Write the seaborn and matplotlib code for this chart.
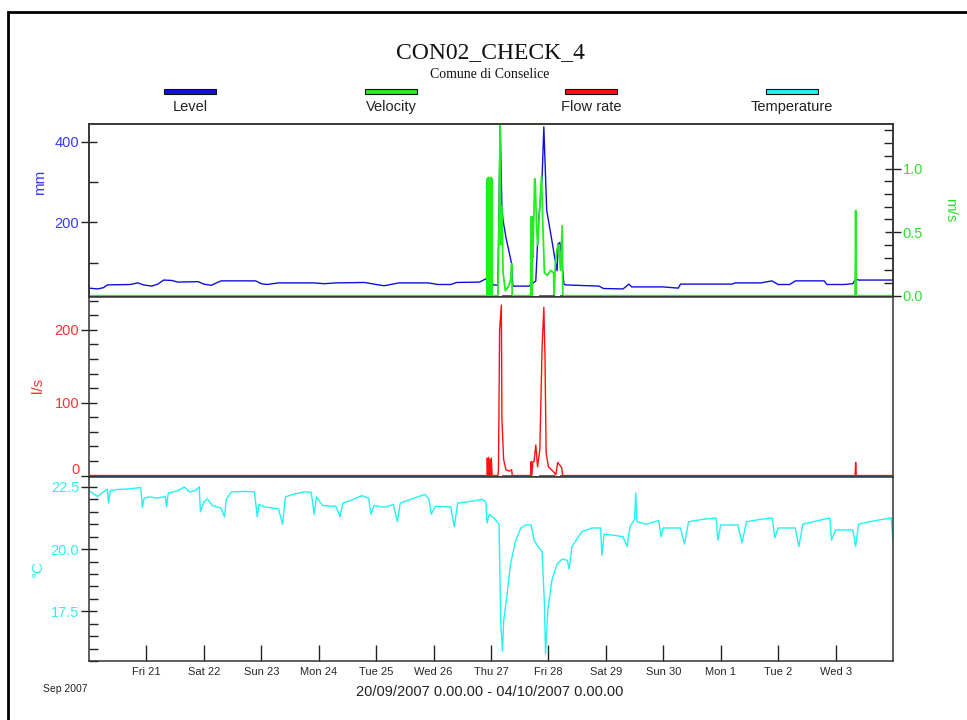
import numpy as np
import pandas as pd
import seaborn as sns
import matplotlib.pyplot as plt
from matplotlib.patches import Rectangle
from matplotlib.ticker import MultipleLocator, FixedLocator
from matplotlib.transforms import ScaledTranslation

sns.set_theme(style="white")
plt.rcParams['font.family'] = ['Liberation Sans', 'DejaVu Sans']

# time axis: days since 20/09/2007 00:00
day_ticks = list(range(1, 14))
day_labels = ["Fri 21", "Sat 22", "Sun 23", "Mon 24", "Tue 25", "Wed 26", "Thu 27",
              "Fri 28", "Sat 29", "Sun 30", "Mon 1", "Tue 2", "Wed 3"]

series_names = ["Level", "Velocity", "Flow rate", "Temperature"]
series_colors = ["#1010d8", "#22ee22", "#ff1010", "#22f2f2"]
label_colors = ["#3838ff", "#33dd33", "#ff3333", "#33eeee"]

# Level (mm)
level_t = [0.00, 0.15, 0.25, 0.32, 0.72, 0.85, 0.95, 1.09, 1.20, 1.30, 1.44, 1.55, 1.90,
           2.00, 2.13, 2.25, 2.30, 2.90, 3.00, 3.10, 3.30, 3.90, 4.10, 4.30, 4.80, 5.00,
           5.14, 5.40, 5.90, 6.08, 6.30, 6.40, 6.80, 6.91, 6.98, 7.05, 7.12, 7.16, 7.19,
           7.21, 7.26, 7.31, 7.36, 7.38, 7.66, 7.70, 7.78, 7.83, 7.89, 7.92, 7.95, 7.97,
           8.04, 8.07, 8.11, 8.15, 8.17, 8.20, 8.23, 8.25, 8.27, 8.30, 8.88, 8.96, 9.30,
           9.40, 9.45, 10.00, 10.26, 10.30, 11.20, 11.25, 11.70, 11.89, 12.00, 12.20,
           12.30, 12.80, 12.85, 13.15, 13.30, 13.35, 13.40, 14.00]
level_mm = [37, 35, 38, 45, 46, 50, 45, 42, 47, 57, 56, 52, 53,
            47, 44, 52, 55, 55, 48, 46, 50, 50, 48, 50, 51, 46,
            43, 50, 50, 46, 46, 51, 52, 60, 52, 45, 44, 442, 237,
            205, 163, 130, 97, 42, 42, 46, 55, 205, 312, 437, 312, 230,
            172, 147, 112, 80, 147, 150, 112, 80, 47, 45, 42, 36, 35,
            47, 40, 40, 37, 47, 47, 50, 50, 55, 46, 46,
            55, 55, 46, 46, 48, 60, 57, 57]

# Velocity (m/s)
vel_t = [0.00, 6.93, 6.935, 6.945, 6.955, 6.965, 6.975, 6.985, 6.995, 7.005, 7.015, 7.02,
         7.12, 7.13, 7.16, 7.17, 7.19, 7.21, 7.25, 7.30, 7.34, 7.36, 7.37, 7.69, 7.70,
         7.71, 7.72, 7.73, 7.76, 7.77, 7.79, 7.81, 7.83, 7.88, 7.90, 7.93, 7.98, 8.04,
         8.09, 8.10, 8.12, 8.15, 8.18, 8.21, 8.24, 8.25, 13.34, 13.35, 13.36, 14.00]
vel_ms = [0.0, 0.0, 0.92, 0.0, 0.93, 0.0, 0.92, 0.0, 0.93, 0.0, 0.92, 0.0,
          0.0, 0.24, 1.38, 0.40, 0.70, 0.18, 0.04, 0.07, 0.12, 0.25, 0.0, 0.0, 0.62,
          0.0, 0.62, 0.30, 0.92, 0.90, 0.59, 0.40, 0.55, 0.94, 0.60, 0.18, 0.16, 0.20,
          0.18, 0.0, 0.25, 0.37, 0.40, 0.20, 0.55, 0.0, 0.0, 0.67, 0.0, 0.0]

# Flow rate (l/s)
flow_t = [0.00, 6.93, 6.935, 6.945, 6.96, 6.97, 6.985, 6.995, 7.005, 7.02, 7.12, 7.13,
          7.15, 7.18, 7.19, 7.22, 7.26, 7.32, 7.36, 7.37, 7.69, 7.70, 7.71, 7.73, 7.75,
          7.78, 7.81, 7.85, 7.89, 7.92, 7.94, 7.96, 8.00, 8.08, 8.13, 8.16, 8.19, 8.23,
          8.25, 13.34, 13.35, 13.36, 14.00]
flow_ls = [0, 0, 24, 0, 25, 0, 22, 0, 24, 0, 0, 8,
           200, 234, 77, 22, 8, 6, 8, 0, 0, 19, 0, 19, 19,
           42, 12, 35, 177, 231, 163, 31, 12, 6, 1, 18, 15, 11,
           0, 0, 18, 0, 0]

# no-data stretches during the events
gap_start = [7.19, 7.83, 8.20]
gap_end = [7.36, 8.11, 8.25]

# Temperature (degC)
temp_t = [0.00, 0.10, 0.15, 0.25, 0.32, 0.34, 0.37, 0.50, 0.70, 0.90, 0.93, 0.96, 1.05,
          1.20, 1.33, 1.35, 1.38, 1.55, 1.66, 1.75, 1.85, 1.92, 1.94, 2.00, 2.06, 2.15,
          2.30, 2.36, 2.39, 2.48, 2.70, 2.88, 2.93, 2.96, 3.05, 3.30, 3.37, 3.42, 3.55,
          3.75, 3.87, 3.92, 3.96, 4.07, 4.30, 4.37, 4.42, 4.55, 4.75, 4.87, 4.91, 4.96,
          5.15, 5.30, 5.37, 5.42, 5.60, 5.85, 5.92, 5.96, 6.03, 6.30, 6.36, 6.42, 6.60,
          6.85, 6.91, 6.93, 6.97, 7.05, 7.14, 7.17, 7.20, 7.22, 7.28, 7.34, 7.43, 7.52,
          7.60, 7.70, 7.75, 7.82, 7.89, 7.93, 7.95, 7.99, 8.06, 8.15, 8.24, 8.33, 8.36,
          8.41, 8.58, 8.76, 8.91, 8.93, 8.97, 9.15, 9.30, 9.37, 9.42, 9.50, 9.52, 9.54,
          9.70, 9.92, 9.96, 10.00, 10.30, 10.37, 10.44, 10.70, 10.92, 10.95, 11.00,
          11.30, 11.37, 11.45, 11.70, 11.90, 11.94, 12.00, 12.30, 12.36, 12.43, 12.70,
          12.90, 12.93, 13.00, 13.30, 13.35, 13.40, 13.70, 13.97, 14.00]
temp_c = [22.35, 22.20, 22.12, 22.30, 22.42, 21.85, 22.35, 22.40, 22.42, 22.48, 21.68, 22.05, 22.10,
          22.05, 22.12, 21.70, 22.25, 22.35, 22.50, 22.30, 22.35, 22.50, 21.50, 21.90, 22.02, 21.75,
          21.65, 21.30, 22.00, 22.30, 22.32, 22.30, 21.30, 21.80, 21.70, 21.62, 21.00, 22.10, 22.20,
          22.30, 22.28, 21.40, 22.10, 21.75, 21.72, 21.30, 21.85, 21.95, 22.15, 22.05, 21.40, 21.75,
          21.68, 21.80, 21.10, 21.85, 22.00, 22.20, 22.00, 21.40, 21.72, 21.70, 20.90, 21.85, 21.90,
          22.00, 21.90, 21.05, 21.40, 21.25, 21.00, 17.00, 15.90, 17.10, 18.20, 19.40, 20.35, 20.85,
          20.97, 20.97, 20.36, 20.10, 19.90, 17.80, 15.80, 17.55, 18.75, 19.40, 19.60, 19.55, 19.20,
          20.10, 20.70, 20.85, 20.85, 19.75, 20.60, 20.55, 20.50, 20.10, 20.90, 21.20, 22.25, 21.10,
          21.00, 21.15, 20.50, 20.85, 20.85, 20.20, 21.10, 21.20, 21.25, 20.36, 20.97,
          20.97, 20.25, 21.10, 21.20, 21.25, 20.45, 20.85, 20.85, 20.10, 21.00, 21.15,
          21.25, 20.36, 20.77, 20.77, 20.10, 21.00, 21.15, 21.25, 20.30]

W, H = 967, 720
fig = plt.figure(figsize=(W / 100, H / 100), dpi=100)
fig.patch.set_facecolor("white")

left, width = 89 / W, (893 - 89) / W
ax_lvl = fig.add_axes([left, 1 - 297 / H, width, (297 - 124) / H])
ax_vel = ax_lvl.twinx()
ax_flow = fig.add_axes([left, 1 - 477 / H, width, (477 - 297) / H])
ax_temp = fig.add_axes([left, 1 - 661 / H, width, (661 - 477) / H])

lw = 1.0
sns.lineplot(x=level_t, y=level_mm, ax=ax_lvl, color=series_colors[0], lw=lw,
             estimator=None, sort=False)
sns.lineplot(x=vel_t, y=vel_ms, ax=ax_vel, color=series_colors[1], lw=1.3,
             estimator=None, sort=False)
sns.lineplot(x=flow_t, y=flow_ls, ax=ax_flow, color=series_colors[2], lw=lw,
             estimator=None, sort=False)
sns.lineplot(x=temp_t, y=temp_c, ax=ax_temp, color=series_colors[3], lw=lw,
             estimator=None, sort=False)
gap_zero = [0] * len(gap_start)
ax_vel.hlines(gap_zero, gap_start, gap_end, color="#555555", lw=1.3, zorder=5)
ax_flow.hlines(gap_zero, gap_start, gap_end, color="#555555", lw=1.3, zorder=5)

ax_lvl.set_ylim(15, 444)
ax_vel.set_ylim(-0.01, 1.35)
ax_flow.set_ylim(-2, 245)
ax_temp.set_ylim(15.5, 22.9)

for ax in (ax_lvl, ax_vel, ax_flow, ax_temp):
    ax.set_xlim(0, 14)
    ax.set_xlabel("")
    ax.set_ylabel("")
    for sp in ax.spines.values():
        sp.set_color("#333333")
        sp.set_linewidth(1.1)
    ax.tick_params(axis="x", bottom=False, labelbottom=False)

def style_y(ax, major, minor, color, side="left"):
    ax.yaxis.set_major_locator(FixedLocator(major))
    ax.yaxis.set_minor_locator(MultipleLocator(minor))
    ax.tick_params(axis="y", which="major", direction="inout", length=12, width=1.0,
                   color="#222222", labelsize=10.5, labelcolor=color, pad=1,
                   left=(side == "left"), right=(side == "right"))
    ax.tick_params(axis="y", which="minor", direction="in", length=6.5, width=1.0,
                   color="#222222", left=(side == "left"), right=(side == "right"))

style_y(ax_lvl, [200, 400], 100, label_colors[0])
style_y(ax_vel, [0.0, 0.5, 1.0], 0.1, label_colors[1], side="right")
style_y(ax_flow, [0, 100, 200], 20, label_colors[2])
style_y(ax_temp, [17.5, 20.0, 22.5], 0.5, label_colors[3])
ax_vel.yaxis.set_major_formatter(plt.FuncFormatter(lambda v, p: f"{v:.1f}"))
ax_temp.yaxis.set_major_formatter(plt.FuncFormatter(lambda v, p: f"{v:.1f}"))

ax_temp.xaxis.set_major_locator(FixedLocator(day_ticks))
ax_temp.set_xticklabels(day_labels)
ax_temp.tick_params(axis="x", bottom=True, labelbottom=True, direction="in", length=11.5,
                    width=1.0, color="#222222", labelsize=8, pad=4)
for lab in ax_temp.get_xticklabels():
    lab.set_family(["Liberation Sans Narrow", "Liberation Sans", "DejaVu Sans"])

# the flow "0" label sits a little above its tick, clear of the 22.5 below
zero_lab = ax_flow.yaxis.get_major_ticks()[0].label1
zero_lab.set_transform(zero_lab.get_transform() + ScaledTranslation(0, 5 / 72, fig.dpi_scale_trans))

# axis units
fig.text(40 / W, 1 - 182 / H, "mm", color=label_colors[0], rotation=90,
         ha="center", va="center", fontsize=11)
fig.text(950 / W, 1 - 210 / H, "m/s", color=label_colors[1], rotation=270,
         ha="center", va="center", fontsize=11)
fig.text(38 / W, 1 - 385 / H, "l/s", color=label_colors[2], rotation=90,
         ha="center", va="center", fontsize=11)
fig.text(38 / W, 1 - 570 / H, "°C", color=label_colors[3], rotation=90,
         ha="center", va="center", fontsize=11)

# titles
fig.text(490 / W, 1 - 53 / H, "CON02_CHECK_4", ha="center", va="center",
         fontsize=17, family=["Liberation Serif", "DejaVu Serif"], color="#111111")
fig.text(490 / W, 1 - 75 / H, "Comune di Conselice", ha="center", va="center",
         fontsize=10, family=["Liberation Serif", "DejaVu Serif"], color="#111111")

# legend: swatch above label
legend_x = [190, 391, 591, 792]
for name, col, cx in zip(series_names, series_colors, legend_x):
    fig.patches.append(Rectangle(((cx - 26) / W, 1 - 94 / H), 52 / W, 5 / H,
                                 transform=fig.transFigure, facecolor=col,
                                 edgecolor="#111111", lw=0.8))
    fig.text(cx / W, 1 - 107 / H, name, ha="center", va="center", fontsize=10.5,
             color="#222222")

fig.text(65 / W, 1 - 689 / H, "Sep 2007", ha="center", va="center", fontsize=7.5,
         family=["Liberation Sans Narrow", "Liberation Sans", "DejaVu Sans"], color="#222222")
fig.text(490 / W, 1 - 692 / H, "20/09/2007 0.00.00 - 04/10/2007 0.00.00", ha="center",
         va="center", fontsize=10.5, color="#222222")

# page frame
fig.patches.append(Rectangle((8 / W, -0.5), 2.0, 0.5 + 1 - 12 / H, transform=fig.transFigure,
                             fill=False, edgecolor="black", lw=2, clip_on=False))

fig.savefig("out.png", dpi=100, facecolor="white")
